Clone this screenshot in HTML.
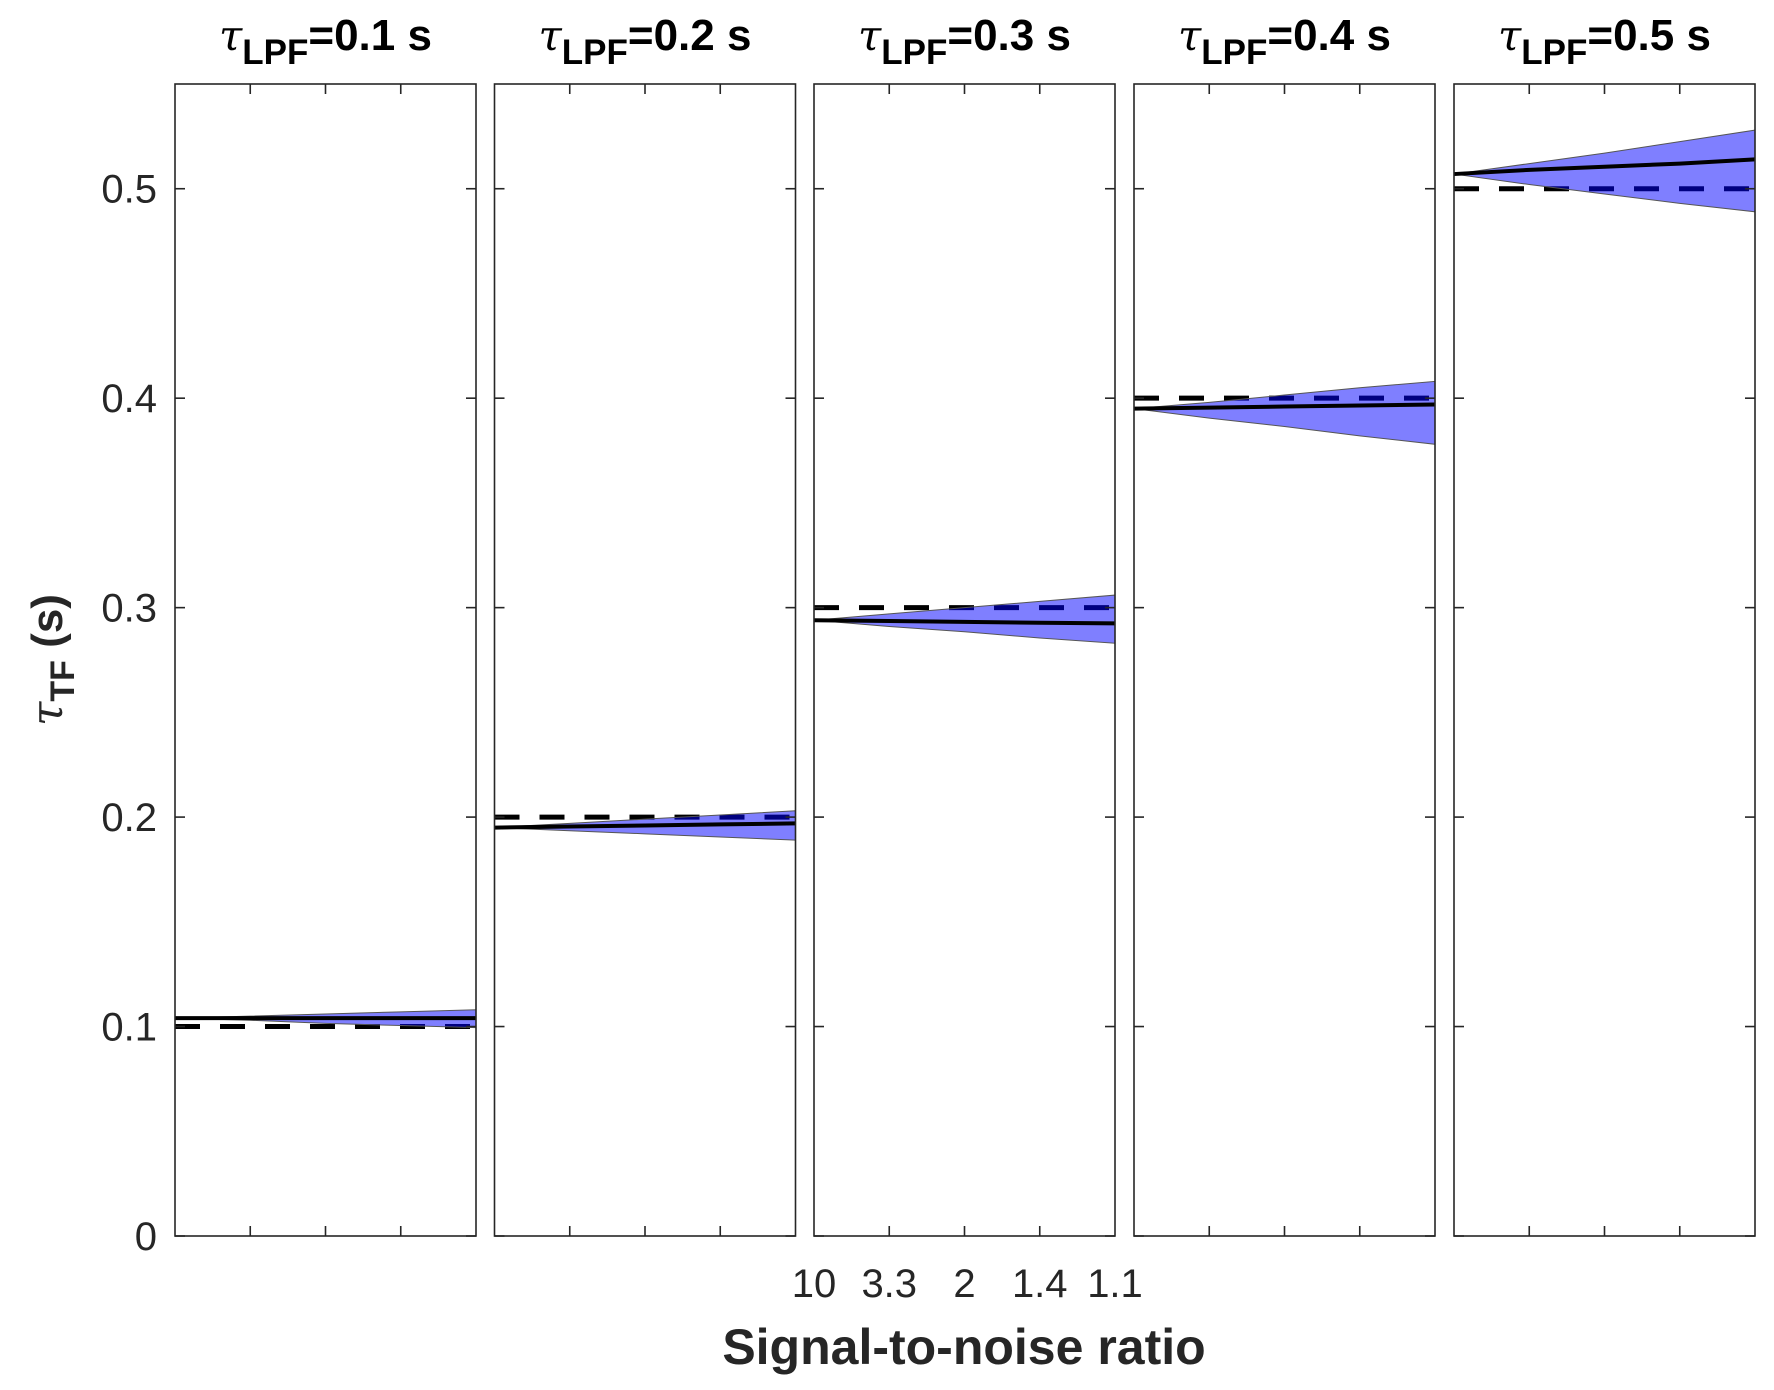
<!DOCTYPE html>
<html><head><meta charset="utf-8"><style>
html,body{margin:0;padding:0;background:#fff;}
svg{display:block;font-family:"Liberation Sans",Arial,sans-serif;}
</style></head><body>
<svg id="chart" width="1774" height="1390" viewBox="0 0 1774 1390" xmlns="http://www.w3.org/2000/svg"></svg>
<script>
const snrLabels = ["10","3.3","2","1.4","1.1"];
const yTicks = [0,0.1,0.2,0.3,0.4,0.5];
const yTickLabels = ["0","0.1","0.2","0.3","0.4","0.5"];
const panelTitles = ["0.1","0.2","0.3","0.4","0.5"];
const trueTau = [0.1,0.2,0.3,0.4,0.5];
const meanP1 = [0.104,0.104,0.104,0.104,0.104];
const upperP1 = [0.104,0.105,0.106,0.107,0.108];
const lowerP1 = [0.104,0.103,0.1015,0.1005,0.0995];
const meanP2 = [0.195,0.1955,0.196,0.1965,0.197];
const upperP2 = [0.195,0.197,0.199,0.201,0.203];
const lowerP2 = [0.195,0.1935,0.192,0.1905,0.189];
const meanP3 = [0.294,0.2936,0.2932,0.2928,0.2925];
const upperP3 = [0.294,0.297,0.300,0.303,0.306];
const lowerP3 = [0.294,0.291,0.2885,0.2855,0.283];
const meanP4 = [0.395,0.3955,0.396,0.3965,0.397];
const upperP4 = [0.395,0.398,0.4015,0.405,0.408];
const lowerP4 = [0.395,0.3905,0.3865,0.382,0.378];
const meanP5 = [0.507,0.509,0.5105,0.512,0.514];
const upperP5 = [0.507,0.512,0.517,0.5225,0.528];
const lowerP5 = [0.507,0.502,0.4975,0.493,0.489];
const means = [meanP1,meanP2,meanP3,meanP4,meanP5];
const uppers = [upperP1,upperP2,upperP3,upperP4,upperP5];
const lowers = [lowerP1,lowerP2,lowerP3,lowerP4,lowerP5];

const NS="http://www.w3.org/2000/svg";
const svg=document.getElementById('chart');
const top0=84, bot0=1236, pW=301, yMax=0.55;
const lefts=[175,494.5,814,1134,1454];
function yS(v){return bot0-(v/yMax)*(bot0-top0);}
function xS(p,i){return lefts[p]+i/(snrLabels.length-1)*pW;}
function mk(tag,attrs,parent){const e=document.createElementNS(NS,tag);for(const k in attrs)e.setAttribute(k,attrs[k]);(parent||svg).appendChild(e);return e;}
const axisCol="#262626";
for(let p=0;p<5;p++){
  const g=mk('g',{});
  
  
  const L=lefts[p],R=L+pW;
  const d=mk('line',{x1:L,x2:R,y1:yS(trueTau[p]),y2:yS(trueTau[p]),stroke:"#000","stroke-width":5,"stroke-dasharray":"25 20"},g);
  
  
  let pts=[];
  for(let i=0;i<5;i++)pts.push(xS(p,i)+","+yS(uppers[p][i]));
  for(let i=4;i>=0;i--)pts.push(xS(p,i)+","+yS(lowers[p][i]));
  const b=mk('polygon',{points:pts.join(" "),fill:"rgba(0,0,255,0.5)",stroke:"#555","stroke-width":1},g);
  
  
  let mp=[];for(let i=0;i<5;i++)mp.push(xS(p,i)+","+yS(means[p][i]));
  const m=mk('polyline',{points:mp.join(" "),fill:"none",stroke:"#000","stroke-width":4},g);
  
  
  const f=mk('rect',{x:L,y:top0,width:pW,height:bot0-top0,fill:"none",stroke:axisCol,"stroke-width":1.6},g);
  
  
  for(const t of yTicks){const y=yS(t);
    mk('line',{x1:L,x2:L+10,y1:y,y2:y,stroke:axisCol,"stroke-width":1.6},g);
    mk('line',{x1:R-10,x2:R,y1:y,y2:y,stroke:axisCol,"stroke-width":1.6},g);}
  for(let i=1;i<4;i++){const x=xS(p,i);
    mk('line',{x1:x,x2:x,y1:top0,y2:top0+10,stroke:axisCol,"stroke-width":1.6},g);
    mk('line',{x1:x,x2:x,y1:bot0,y2:bot0-10,stroke:axisCol,"stroke-width":1.6},g);}
  const t=mk('text',{x:L+pW/2,y:50,"text-anchor":"middle","font-size":44,"font-weight":"bold",fill:"#000"},g);
  
  
  t.innerHTML='<tspan font-style="italic" font-weight="normal" font-family="DejaVu Serif, serif" font-size="42">τ</tspan><tspan font-size="35" dy="14">LPF</tspan><tspan dy="-14">=' + panelTitles[p] + ' s</tspan>';
}
for(let k=0;k<yTicks.length;k++){
  const t=mk('text',{x:157,y:yS(yTicks[k])+14,"text-anchor":"end","font-size":40,fill:"#262626"});
  t.textContent=yTickLabels[k];
  
  
}
for(let i=0;i<snrLabels.length;i++){
  const t=mk('text',{x:xS(2,i),y:1297,"text-anchor":"middle","font-size":40,fill:"#262626"});
  t.textContent=snrLabels[i];
  
  
}
const xt=mk('text',{x:964,y:1364,"text-anchor":"middle","font-size":50,"font-weight":"bold",fill:"#262626"});
xt.textContent="Signal-to-noise ratio";


const yt=mk('text',{x:0,y:0,"text-anchor":"middle","font-size":44,"font-weight":"bold",fill:"#262626",transform:"translate(62,660) rotate(-90)"});
yt.innerHTML='<tspan font-style="italic" font-weight="normal" font-family="DejaVu Serif, serif">τ</tspan><tspan font-size="34" dy="12">TF</tspan><tspan dy="-12"> (s)</tspan>';


</script>
</body></html>
